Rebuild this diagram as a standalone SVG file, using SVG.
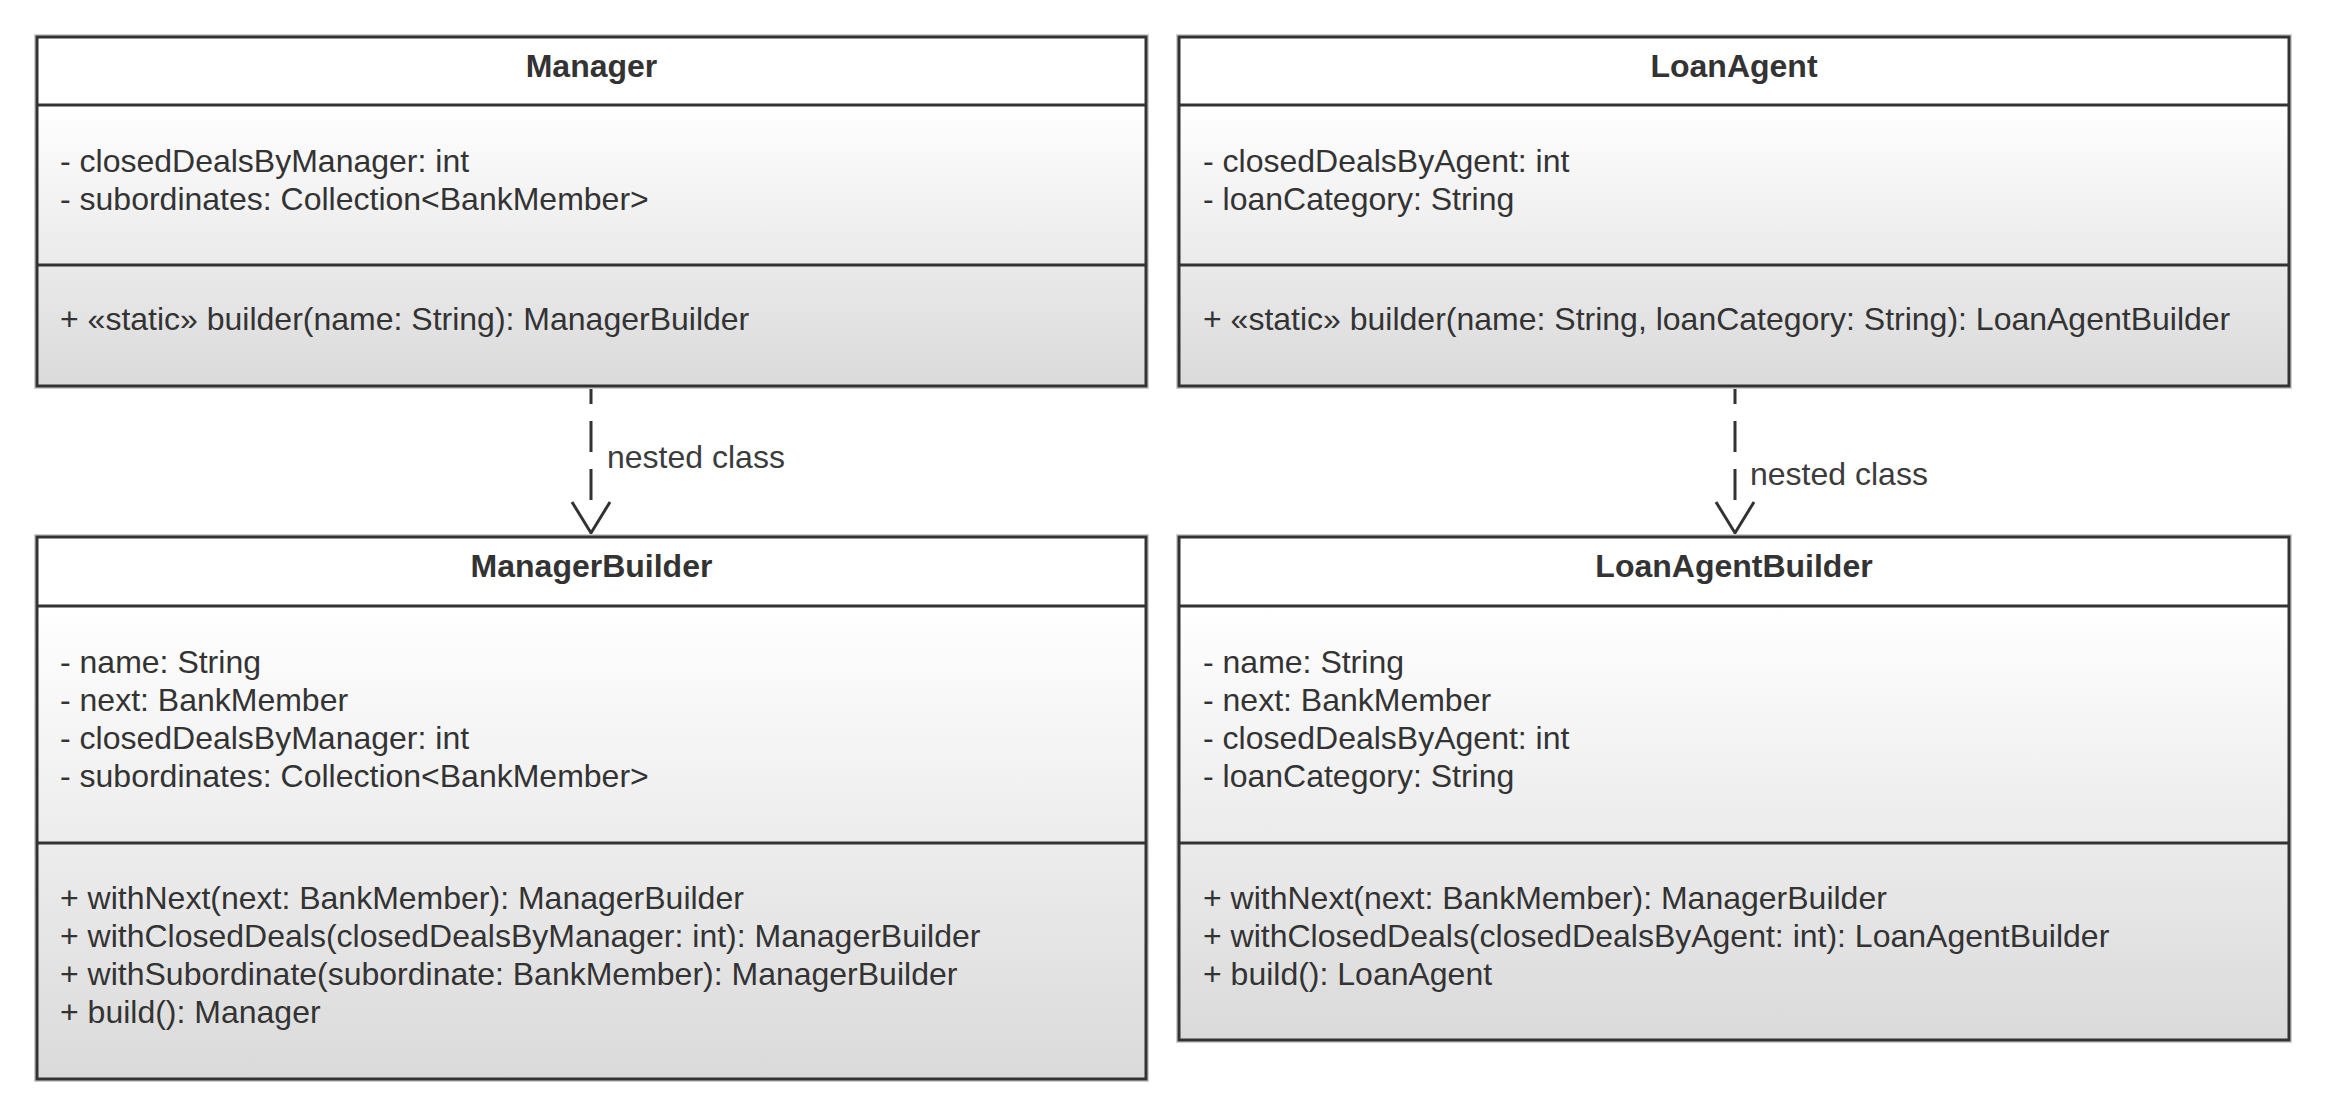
<svg xmlns="http://www.w3.org/2000/svg" width="2326" height="1117" viewBox="0 0 2326 1117">
  <defs>
    <linearGradient id="body" x1="0" y1="0" x2="0" y2="1">
      <stop offset="0" stop-color="#ffffff"/>
      <stop offset="1" stop-color="#dadada"/>
    </linearGradient>
    <marker id="open" markerUnits="userSpaceOnUse" markerWidth="44" markerHeight="40" refX="21" refY="34" orient="0" viewBox="0 0 44 40">
      <polyline points="2,3 21,34 40,3" fill="none" stroke="#333333" stroke-width="3" stroke-linejoin="miter"/>
    </marker>
  </defs>
  <style>
    text { font-family: "Liberation Sans", Arial, sans-serif; font-size: 32px; fill: #333333; }
    .title { font-weight: bold; text-anchor: middle; }
    .lbl { fill: #3c3c3c; }
    .halo { fill: none; stroke: #cfcfcf; stroke-width: 6; }
    .head { fill: #ffffff; }
    .bodyfill { fill: url(#body); }
    .frame { fill: none; stroke: #333333; stroke-width: 3; }
    .div { stroke: #333333; stroke-width: 3; }
    .conn { stroke: #333333; stroke-width: 3; stroke-dasharray: 31 17; stroke-dashoffset: 13; fill: none; }
  </style>
  <rect x="0" y="0" width="2326" height="1117" fill="#ffffff"/>

  <g id="connectors">
    <line class="conn" x1="591" y1="386" x2="591" y2="502"/>
    <polyline points="572,502 591,533 610,502" fill="none" stroke="#333333" stroke-width="3"/>
    <text class="lbl" x="607" y="468">nested class</text>
    <line class="conn" x1="1735" y1="386" x2="1735" y2="502"/>
    <polyline points="1716,502 1735,533 1754,502" fill="none" stroke="#333333" stroke-width="3"/>
    <text class="lbl" x="1750" y="485">nested class</text>
  </g>

  <g id="Manager">
    <rect class="halo" x="37" y="37" width="1109" height="349"/>
    <rect class="head" x="37" y="37" width="1109" height="68"/>
    <rect class="bodyfill" x="37" y="105" width="1109" height="281"/>
    <rect class="frame" x="37" y="37" width="1109" height="349"/>
    <line class="div" x1="37" y1="105" x2="1146" y2="105"/>
    <line class="div" x1="37" y1="265" x2="1146" y2="265"/>
    <text class="title" x="591.5" y="77">Manager</text>
    <text x="60" y="172">- closedDealsByManager: int</text>
    <text x="60" y="210">- subordinates: Collection&lt;BankMember&gt;</text>
    <text x="60" y="330">+ «static» builder(name: String): ManagerBuilder</text>
  </g>

  <g id="LoanAgent">
    <rect class="halo" x="1179" y="37" width="1110" height="349"/>
    <rect class="head" x="1179" y="37" width="1110" height="68"/>
    <rect class="bodyfill" x="1179" y="105" width="1110" height="281"/>
    <rect class="frame" x="1179" y="37" width="1110" height="349"/>
    <line class="div" x1="1179" y1="105" x2="2289" y2="105"/>
    <line class="div" x1="1179" y1="265" x2="2289" y2="265"/>
    <text class="title" x="1734" y="77">LoanAgent</text>
    <text x="1203" y="172">- closedDealsByAgent: int</text>
    <text x="1203" y="210">- loanCategory: String</text>
    <text x="1203" y="330">+ «static» builder(name: String, loanCategory: String): LoanAgentBuilder</text>
  </g>

  <g id="ManagerBuilder">
    <rect class="halo" x="37" y="537" width="1109" height="542"/>
    <rect class="head" x="37" y="537" width="1109" height="69"/>
    <rect class="bodyfill" x="37" y="606" width="1109" height="473"/>
    <rect class="frame" x="37" y="537" width="1109" height="542"/>
    <line class="div" x1="37" y1="606" x2="1146" y2="606"/>
    <line class="div" x1="37" y1="843" x2="1146" y2="843"/>
    <text class="title" x="591.5" y="577">ManagerBuilder</text>
    <text x="60" y="673">- name: String</text>
    <text x="60" y="711">- next: BankMember</text>
    <text x="60" y="749">- closedDealsByManager: int</text>
    <text x="60" y="787">- subordinates: Collection&lt;BankMember&gt;</text>
    <text x="60" y="909">+ withNext(next: BankMember): ManagerBuilder</text>
    <text x="60" y="947">+ withClosedDeals(closedDealsByManager: int): ManagerBuilder</text>
    <text x="60" y="985">+ withSubordinate(subordinate: BankMember): ManagerBuilder</text>
    <text x="60" y="1023">+ build(): Manager</text>
  </g>

  <g id="LoanAgentBuilder">
    <rect class="halo" x="1179" y="537" width="1110" height="503"/>
    <rect class="head" x="1179" y="537" width="1110" height="69"/>
    <rect class="bodyfill" x="1179" y="606" width="1110" height="434"/>
    <rect class="frame" x="1179" y="537" width="1110" height="503"/>
    <line class="div" x1="1179" y1="606" x2="2289" y2="606"/>
    <line class="div" x1="1179" y1="843" x2="2289" y2="843"/>
    <text class="title" x="1734" y="577">LoanAgentBuilder</text>
    <text x="1203" y="673">- name: String</text>
    <text x="1203" y="711">- next: BankMember</text>
    <text x="1203" y="749">- closedDealsByAgent: int</text>
    <text x="1203" y="787">- loanCategory: String</text>
    <text x="1203" y="909">+ withNext(next: BankMember): ManagerBuilder</text>
    <text x="1203" y="947">+ withClosedDeals(closedDealsByAgent: int): LoanAgentBuilder</text>
    <text x="1203" y="985">+ build(): LoanAgent</text>
  </g>
</svg>
